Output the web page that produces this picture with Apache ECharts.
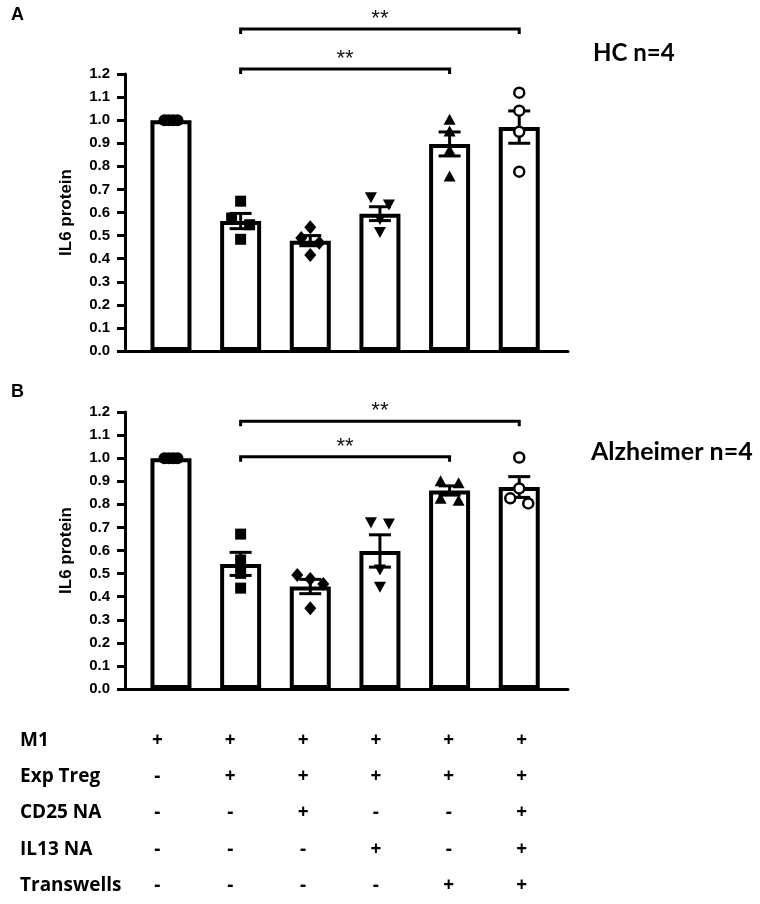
<!DOCTYPE html>
<html><head><meta charset="utf-8">
<script src="https://cdn.jsdelivr.net/npm/echarts@6/dist/echarts.min.js"></script>
<style>html,body{margin:0;padding:0;background:#fff}#c{width:760px;height:904px}</style>
</head><body><div id="c"></div>
<script>
// ---------------- data ----------------
const categories = ['M1', 'M1+Treg', 'M1+Treg+CD25NA', 'M1+Treg+IL13NA', 'M1+Treg (TW)', 'M1+Treg+CD25NA+IL13NA (TW)'];
const yTicks = [0, 0.1, 0.2, 0.3, 0.4, 0.5, 0.6, 0.7, 0.8, 0.9, 1.0, 1.1, 1.2];

// Panel A : HC n=4
const meansHC = [1.0, 0.563, 0.478, 0.595, 0.897, 0.970];
const semHC   = [0,   0.033, 0.022, 0.030, 0.052, 0.070];
const pointsHC = [
  [1.0, 1.0, 1.0, 1.0],
  [0.649, 0.576, 0.547, 0.484],
  [0.536, 0.490, 0.469, 0.416],
  [0.664, 0.633, 0.570, 0.513],
  [1.004, 0.953, 0.871, 0.758],
  [1.119, 1.041, 0.950, 0.777]
];
const bracketsHC = [[1, 5, 1.395], [1, 4, 1.222]];

// Panel B : Alzheimer n=4
const meansAD = [1.0, 0.542, 0.444, 0.598, 0.860, 0.875];
const semAD   = [0,   0.050, 0.031, 0.070, 0.020, 0.045];
const pointsAD = [
  [1.0, 1.0, 1.0, 1.0],
  [0.671, 0.559, 0.501, 0.437],
  [0.494, 0.476, 0.455, 0.350],
  [0.720, 0.715, 0.516, 0.441],
  [0.902, 0.893, 0.826, 0.818],
  [1.003, 0.869, 0.826, 0.804]
];
const bracketsAD = [[1, 5, 1.160], [1, 4, 1.006]];
const bracketLabel = '**';

// condition table
const tableRows = ['M1', 'Exp Treg', 'CD25 NA', 'IL13 NA', 'Transwells'];
const tableSigns = [
  ['+', '+', '+', '+', '+', '+'],
  ['-', '+', '+', '+', '+', '+'],
  ['-', '-', '+', '-', '-', '+'],
  ['-', '-', '-', '+', '-', '+'],
  ['-', '-', '-', '-', '+', '+']
];
const panelTitles = ['HC n=4', 'Alzheimer n=4'];
const panelLetters = ['A', 'B'];
const yName = 'IL6 protein';

// ---------------- styles ----------------
const AXIS_FONT = '"Liberation Sans", Arial, sans-serif';
const TITLE_FONT = 'Lato, "Open Sans", sans-serif';
const TABLE_FONT = '"Open Sans", Lato, sans-serif';
const markerStyles = [
  {symbol: 'circle', size: 12, rotate: 0, fill: '#000', border: 0},
  {symbol: 'rect', size: 11, rotate: 0, fill: '#000', border: 0},
  {symbol: 'diamond', size: [12, 14], rotate: 0, fill: '#000', border: 0},
  {symbol: 'triangle', size: [12, 11], rotate: 180, fill: '#000', border: 0},
  {symbol: 'triangle', size: [12, 11], rotate: 0, fill: '#000', border: 0},
  {symbol: 'circle', size: 10, rotate: 0, fill: '#fff', border: 2.5}
];

// spread overlapping points horizontally (pixel offsets)
function jitter(vals) {
  const idx = vals.map((v, i) => i).sort((a, b) => vals[b] - vals[a]);
  const off = new Array(vals.length).fill(0);
  let cluster = [idx[0]];
  const flush = () => {
    const n = cluster.length;
    if (n > 1) {
      const half = n === 3 ? 13 : (n === 4 ? 6.5 : 9);
      cluster.forEach((id, j) => { off[id] = -half + 2 * half * j / (n - 1); });
    }
  };
  for (let j = 1; j < idx.length; j++) {
    if (vals[cluster[cluster.length - 1]] - vals[idx[j]] < 0.04) cluster.push(idx[j]);
    else { flush(); cluster = [idx[j]]; }
  }
  flush();
  return off;
}

const panels = [
  {means: meansHC, sem: semHC, points: pointsHC, brackets: bracketsHC, top: 74},
  {means: meansAD, sem: semAD, points: pointsAD, brackets: bracketsAD, top: 412}
];

const grids = [], xAxes = [], yAxes = [], series = [];
panels.forEach((p, gi) => {
  grids.push({left: 125, top: p.top, width: 443, height: 277});
  xAxes.push({
    type: 'value', gridIndex: gi, min: -0.66, max: 5.70,
    axisLine: {show: true, onZero: false, lineStyle: {color: '#000', width: 3}},
    axisTick: {show: false}, axisLabel: {show: false}, splitLine: {show: false}
  });
  yAxes.push({
    type: 'value', gridIndex: gi, min: yTicks[0], max: yTicks[yTicks.length - 1], interval: 0.1,
    name: yName, nameLocation: 'middle', nameGap: 50,
    nameTextStyle: {fontFamily: AXIS_FONT, fontWeight: 'bold', fontSize: 17, color: '#000'},
    axisLine: {show: true, onZero: false, lineStyle: {color: '#000', width: 3}},
    axisTick: {show: true, length: 8, lineStyle: {color: '#000', width: 3}},
    axisLabel: {margin: 15, fontFamily: AXIS_FONT, fontWeight: 'bold', fontSize: 15, color: '#000',
      formatter: v => v.toFixed(1)},
    splitLine: {show: false}
  });
  // bars
  series.push({
    type: 'bar', xAxisIndex: gi, yAxisIndex: gi, barWidth: 41, z: 2, silent: true,
    data: p.means.map((m, k) => [k, m]),
    itemStyle: {color: '#fff', borderColor: '#000', borderWidth: 4}
  });
  // error bars (mean ± SEM)
  series.push({
    type: 'custom', xAxisIndex: gi, yAxisIndex: gi, z: 3, silent: true,
    data: p.means.map((m, k) => [k, m, p.sem[k]]),
    encode: {x: 0, y: 1},
    renderItem: (params, api) => {
      const x = api.value(0), m = api.value(1), s = api.value(2);
      if (!s) return null;
      const t = api.coord([x, m + s]), b = api.coord([x, m - s]);
      const hw = 11, st = {stroke: '#000', lineWidth: 3};
      return {type: 'group', children: [
        {type: 'line', shape: {x1: t[0], y1: t[1], x2: b[0], y2: b[1]}, style: st},
        {type: 'line', shape: {x1: t[0] - hw, y1: t[1], x2: t[0] + hw, y2: t[1]}, style: st},
        {type: 'line', shape: {x1: b[0] - hw, y1: b[1], x2: b[0] + hw, y2: b[1]}, style: st}
      ]};
    }
  });
  // individual points
  const pts = [];
  p.points.forEach((vals, k) => {
    const off = jitter(vals);
    const ms = markerStyles[k];
    vals.forEach((v, j) => {
      pts.push({
        value: [k, v], symbol: ms.symbol, symbolSize: ms.size, symbolRotate: ms.rotate,
        symbolOffset: [off[j], 0],
        itemStyle: {color: ms.fill, borderColor: '#000', borderWidth: ms.border, opacity: 1}
      });
    });
  });
  series.push({type: 'scatter', xAxisIndex: gi, yAxisIndex: gi, z: 4, silent: true, data: pts});
  // significance brackets
  series.push({
    type: 'custom', xAxisIndex: gi, yAxisIndex: gi, z: 4, silent: true, clip: false,
    data: p.brackets,
    encode: {x: [0, 1], y: 2},
    renderItem: (params, api) => {
      const a = api.coord([api.value(0), api.value(2)]);
      const b = api.coord([api.value(1), api.value(2)]);
      const hook = 5;
      return {type: 'group', children: [
        {type: 'polyline', shape: {points: [[a[0], a[1] + hook], [a[0], a[1]], [b[0], b[1]], [b[0], b[1] + hook]]},
          style: {stroke: '#000', lineWidth: 3, fill: null}},
        {type: 'text', x: (a[0] + b[0]) / 2, y: a[1] - 10,
          style: {text: bracketLabel, font: '22px ' + AXIS_FONT, fill: '#111',
            align: 'center', verticalAlign: 'middle', textAlign: 'center', textVerticalAlign: 'middle'}}
      ]};
    }
  });
});

// condition table grid
grids.push({left: 121, top: 722, width: 437, height: 182.5});
xAxes.push({type: 'category', gridIndex: 2, data: categories, show: false});
yAxes.push({
  type: 'category', gridIndex: 2, data: tableRows, inverse: true,
  axisLine: {show: false}, axisTick: {show: false}, splitLine: {show: false},
  axisLabel: {align: 'left', margin: 101, fontFamily: TABLE_FONT, fontWeight: 'bold', fontSize: 19, color: '#000'}
});
const tableData = [];
tableSigns.forEach((row, r) => row.forEach((s, c) => tableData.push([c, r])));
series.push({
  type: 'custom', xAxisIndex: 2, yAxisIndex: 2, silent: true, data: tableData,
  encode: {x: 0, y: 1},
  renderItem: (params, api) => {
    const c = api.value(0), r = api.value(1);
    const pt = api.coord([c, r]);
    return {type: 'text', x: pt[0], y: pt[1],
      style: {text: tableSigns[r][c], font: 'bold 19px ' + TABLE_FONT, fill: '#000',
        align: 'center', verticalAlign: 'middle', textAlign: 'center', textVerticalAlign: 'middle'}};
  }
});

const graphics = [
  {type: 'text', x: 11, y: 15, style: {text: panelLetters[0], font: 'bold 18px ' + AXIS_FONT, fill: '#000', verticalAlign: 'middle', textVerticalAlign: 'middle'}},
  {type: 'text', x: 11, y: 392, style: {text: panelLetters[1], font: 'bold 18px ' + AXIS_FONT, fill: '#000', verticalAlign: 'middle', textVerticalAlign: 'middle'}},
  {type: 'text', x: 593, y: 53, style: {text: panelTitles[0], font: 'bold 24px ' + TITLE_FONT, fill: '#000', verticalAlign: 'middle', textVerticalAlign: 'middle'}},
  {type: 'text', x: 591, y: 452, style: {text: panelTitles[1], font: 'bold 25px ' + TITLE_FONT, fill: '#000', verticalAlign: 'middle', textVerticalAlign: 'middle'}}
];

const chart = echarts.init(document.getElementById('c'), null, {renderer: 'canvas'});
chart.setOption({
  animation: false,
  backgroundColor: '#fff',
  grid: grids, xAxis: xAxes, yAxis: yAxes, series: series, graphic: graphics
});
</script></body></html>
